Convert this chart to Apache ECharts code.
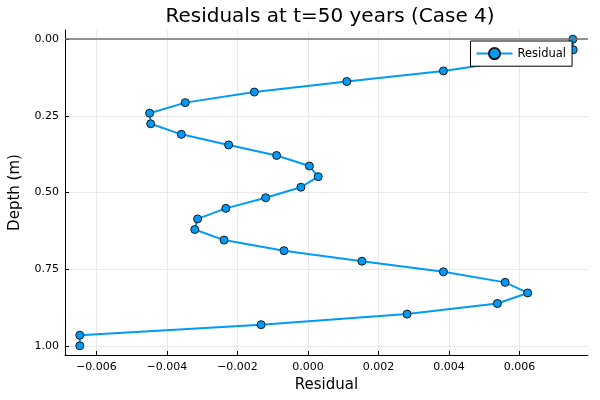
<!DOCTYPE html>
<html>
<head>
<meta charset="utf-8">
<script src="https://cdn.jsdelivr.net/npm/echarts@6/dist/echarts.min.js"></script>
<style>html,body{margin:0;padding:0;background:#fff}#c{width:600px;height:400px}</style>
</head>
<body>
<div id="c"></div>
<script>
// Depth (m) of each point
const depth = [0, 0.0345, 0.0690, 0.1034, 0.1379, 0.1724, 0.2069, 0.2414, 0.2759, 0.3103,
  0.3448, 0.3793, 0.4138, 0.4483, 0.4828, 0.5172, 0.5517, 0.5862, 0.6207, 0.6552,
  0.6897, 0.7241, 0.7586, 0.7931, 0.8276, 0.8621, 0.8966, 0.9310, 0.9655, 1.0];
// Residual at each depth
const residual = [0.00751, 0.00752, 0.00590, 0.00384, 0.00110, -0.00152, -0.00348, -0.00449, -0.00446, -0.00359,
  -0.00225, -0.00089, 0.00004, 0.00029, -0.00020, -0.00120, -0.00233, -0.00313, -0.00321, -0.00238,
  -0.00068, 0.00153, 0.00384, 0.00559, 0.00623, 0.00537, 0.00281, -0.00133, -0.00647, -0.00647];
const xTicks = [-0.006, -0.004, -0.002, 0, 0.002, 0.004, 0.006];
const yTicks = [0, 0.25, 0.5, 0.75, 1.0];
const seriesName = 'Residual';
const titleText = 'Residuals at t=50 years (Case 4)';
const xName = 'Residual';
const yName = 'Depth (m)';

const FONT = 'DejaVu Sans';
const pad = (lo, hi) => { const r = hi - lo; return [lo - 0.03 * r, hi + 0.03 * r]; };
const [xmin, xmax] = pad(Math.min(...residual), Math.max(...residual));
const [ymin, ymax] = pad(Math.min(...depth), Math.max(...depth));
const fmtX = v => (v < 0 ? '\u2212' : '') + Math.abs(v).toFixed(3);
const fmtY = v => v.toFixed(2);

const chart = echarts.init(document.getElementById('c'), null, {renderer: 'canvas'});
chart.setOption({
  animation: false,
  backgroundColor: '#fff',
  title: {
    text: titleText, left: 325, top: 2, textAlign: 'center',
    textStyle: {fontFamily: FONT, fontSize: 20, fontWeight: 'normal', color: '#000'}
  },
  legend: {
    data: [seriesName], left: 470.5, top: 41, orient: 'vertical',
    padding: [6, 6, 6, 5], itemWidth: 36, itemHeight: 14, itemGap: 0,
    backgroundColor: '#fff', borderColor: '#000', borderWidth: 1, borderRadius: 0,
    textStyle: {fontFamily: FONT, fontSize: 11.5, color: '#000'}
  },
  grid: {left: 62.3, right: 12, top: 30, bottom: 45, containLabel: false},
  xAxis: {
    type: 'value', min: xmin, max: xmax,
    name: xName, nameLocation: 'middle', nameGap: 23,
    nameTextStyle: {fontFamily: FONT, fontSize: 15, color: '#000'},
    axisLine: {show: true, onZero: false, lineStyle: {color: '#000', width: 1}},
    axisTick: {show: true, inside: true, length: 4, customValues: xTicks, lineStyle: {color: '#000'}},
    axisLabel: {customValues: xTicks, formatter: fmtX, margin: 7, fontFamily: FONT, fontSize: 11, color: '#000'},
    splitLine: {show: true, lineStyle: {color: '#e8e8e8', width: 1}}
  },
  yAxis: {
    type: 'value', min: ymin, max: ymax, inverse: true,
    name: yName, nameLocation: 'middle', nameGap: 42, nameRotate: 90,
    nameTextStyle: {fontFamily: FONT, fontSize: 15, color: '#000'},
    axisLine: {show: true, onZero: false, lineStyle: {color: '#000', width: 1}},
    axisTick: {show: true, inside: true, length: 4, customValues: yTicks, lineStyle: {color: '#000'}},
    axisLabel: {customValues: yTicks, formatter: fmtY, margin: 6, fontFamily: FONT, fontSize: 11, color: '#000'},
    splitLine: {show: true, lineStyle: {color: '#e8e8e8', width: 1}}
  },
  series: [{
    name: seriesName, type: 'line',
    data: residual.map((r, i) => [r, depth[i]]),
    symbol: 'circle', symbolSize: 8,
    itemStyle: {color: '#009af9', borderColor: '#1a1a1a', borderWidth: 1},
    lineStyle: {color: '#009af9', width: 2},
    z: 3,
    markLine: {
      silent: true, symbol: 'none', label: {show: false},
      lineStyle: {color: '#707070', width: 1.6, type: 'solid'},
      data: [{yAxis: 0}],
      animation: false
    }
  }]
});
</script>
</body>
</html>
